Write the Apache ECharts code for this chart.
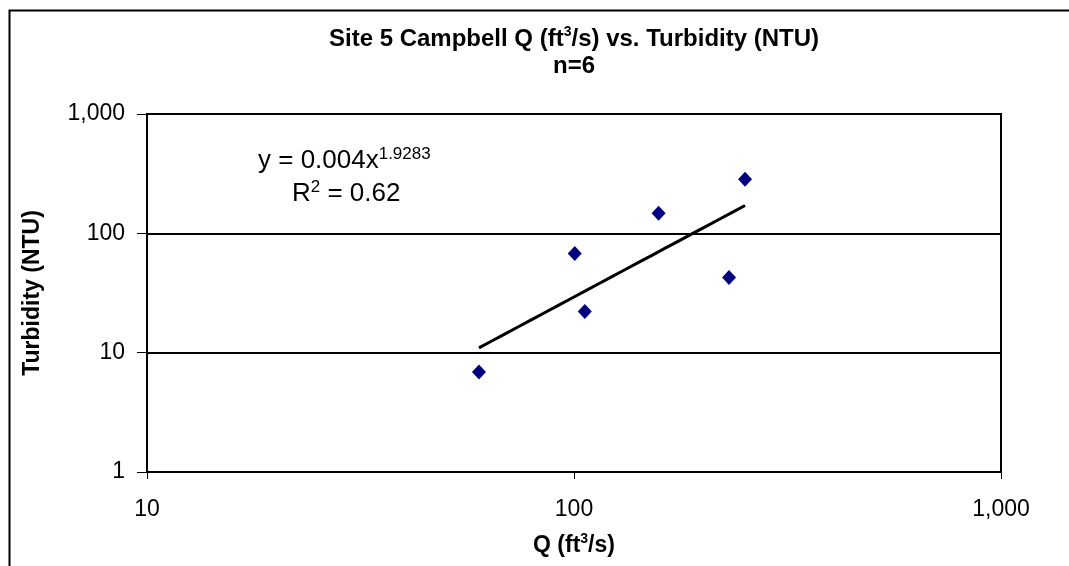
<!DOCTYPE html>
<html><head><meta charset="utf-8">
<script src="https://cdn.jsdelivr.net/npm/echarts@6/dist/echarts.min.js"></script>
<style>html,body{margin:0;padding:0;background:#fff}#c{width:1069px;height:566px}</style>
</head><body><div id="c"></div>
<script>
const qValues = [59.9, 100.4, 106, 157.8, 230.7, 251.5];
const turbidity = [6.9, 67.9, 22.1, 147, 42.7, 284];
const xTicks = [10, 100, 1000];
const yTicks = [1, 10, 100, 1000];
const eqText = ['0.004', '1.9283'];
const r2Text = '0.62';

// power trendline fitted from the data (least squares in log space)
const lx = qValues.map(Math.log10), ly = turbidity.map(Math.log10);
const mx = lx.reduce((a,b)=>a+b)/lx.length, my = ly.reduce((a,b)=>a+b)/ly.length;
let sxy=0,sxx=0; lx.forEach((v,i)=>{sxy+=(v-mx)*(ly[i]-my); sxx+=(v-mx)*(v-mx);});
const b = sxy/sxx, a = Math.pow(10, my-b*mx);
const xmin = Math.min(...qValues), xmax = Math.max(...qValues);
const trend = [];
for (let i=0;i<=20;i++){ const x = Math.pow(10, Math.log10(xmin)+(Math.log10(xmax)-Math.log10(xmin))*i/20); trend.push([x, a*Math.pow(x,b)]); }

const F = 'Liberation Sans, Arial, sans-serif';
const FS = 23;
const fmt = v => Math.round(v).toLocaleString('en-US');
const mainB = sz => ({fontFamily:F,fontSize:sz,fontWeight:'bold',color:'#000',fill:'#000',lineHeight:sz+2,verticalAlign:'bottom'});
const supB = {fontFamily:F,fontSize:14,fontWeight:'bold',color:'#000',fill:'#000',verticalAlign:'top',lineHeight:14};
const mainN = {fontFamily:F,fontSize:26,fill:'#000',lineHeight:28,verticalAlign:'bottom'};
const supN = {fontFamily:F,fontSize:17,fill:'#000',verticalAlign:'top',lineHeight:16};
const chart = echarts.init(document.getElementById('c'));
chart.setOption({
  animation:false,
  backgroundColor:'#fff',
  grid:{left:147,right:68,top:114,bottom:94,show:true,borderColor:'#000',borderWidth:2,backgroundColor:'transparent'},
  xAxis:{type:'log',logBase:10,min:xTicks[0],max:xTicks[xTicks.length-1],
    name:'{b|Q (ft}{s|3}{b|/s)}',nameLocation:'middle',nameGap:60,
    nameTextStyle:{rich:{b:mainB(FS),s:supB}},
    axisLine:{lineStyle:{color:'#000',width:2}},axisTick:{show:true,length:7,inside:false,lineStyle:{color:'#000',width:1}},
    axisLabel:{fontFamily:F,fontSize:FS,color:'#000',margin:26,formatter:fmt},splitLine:{show:false},minorTick:{show:false}},
  yAxis:{type:'log',logBase:10,min:yTicks[0],max:yTicks[yTicks.length-1],
    name:'Turbidity (NTU)',nameLocation:'middle',nameGap:103,nameRotate:90,
    nameTextStyle:{fontFamily:F,fontSize:FS,fontWeight:'bold',color:'#000'},
    axisLine:{lineStyle:{color:'#000',width:2}},axisTick:{show:true,length:10,lineStyle:{color:'#000',width:1}},
    axisLabel:{fontFamily:F,fontSize:FS,color:'#000',margin:22,formatter:fmt},splitLine:{show:true,lineStyle:{color:'#000',width:2}}},
  graphic:[
    {type:'rect',left:7,top:8,shape:{width:1200,height:700},style:{fill:'none',stroke:'#000',lineWidth:2},silent:true,z:-1},
    {type:'text',x:574,y:38,style:{text:'{b|Site 5 Campbell Q (ft}{s|3}{b|/s) vs. Turbidity (NTU)}',align:'center',verticalAlign:'middle',
      rich:{b:mainB(24),s:supB}}},
    {type:'text',x:574,y:66,style:{text:'n=6',align:'center',verticalAlign:'middle',font:'bold 24px '+F,fill:'#000'}},
    {type:'text',x:258,y:160,style:{text:'{n|y = '+eqText[0]+'x}{s|'+eqText[1]+'}',verticalAlign:'middle',
      rich:{n:mainN,s:supN}}},
    {type:'text',x:292,y:193,style:{text:'{n|R}{s|2}{n| = '+r2Text+'}',verticalAlign:'middle',
      rich:{n:mainN,s:supN}}}
  ],
  series:[
    {type:'scatter',data:qValues.map((q,i)=>[q,turbidity[i]]),symbol:'diamond',symbolSize:[14,15],itemStyle:{color:'#000080',opacity:1},z:3},
    {type:'line',data:trend,showSymbol:false,symbol:'none',lineStyle:{color:'#000',width:3},z:2}
  ]
});
</script></body></html>
